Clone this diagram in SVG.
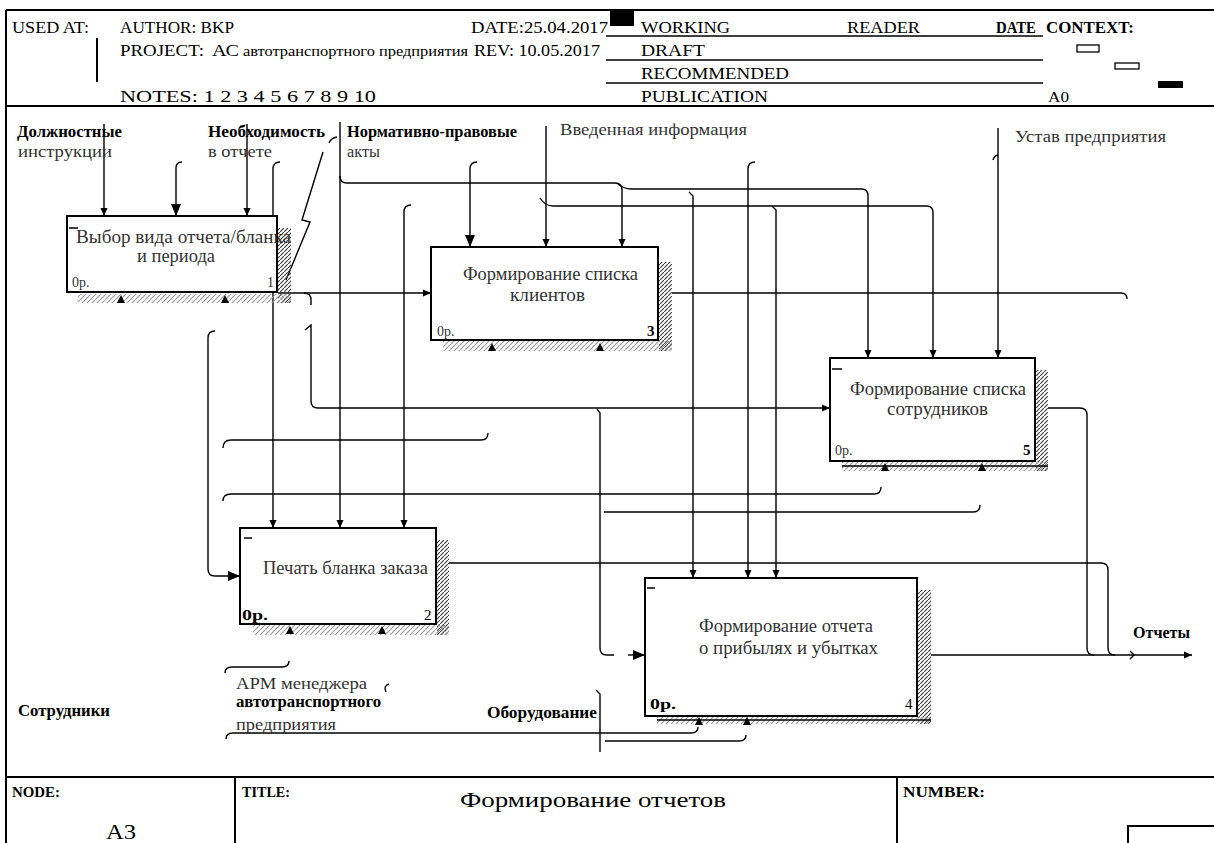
<svg xmlns="http://www.w3.org/2000/svg" width="1214" height="843" viewBox="0 0 1214 843" font-family="'Liberation Serif', 'DejaVu Serif', serif">
<defs>
<pattern id="hd" width="4" height="4" patternUnits="userSpaceOnUse"><path d="M-1,5 L5,-1" stroke="#444" stroke-width="1.2"/></pattern>
<pattern id="hl" width="5" height="5" patternUnits="userSpaceOnUse"><path d="M-1,6 L6,-1" stroke="#999" stroke-width="1.2"/></pattern>
<marker id="a" viewBox="0 0 8 8" refX="8" refY="4" markerWidth="8" markerHeight="8" markerUnits="userSpaceOnUse" orient="auto"><path d="M0,0.5 L8,4 L0,7.5 z" fill="#000"/></marker>
<marker id="ab" viewBox="0 0 12 10" refX="12" refY="5" markerWidth="12" markerHeight="10" markerUnits="userSpaceOnUse" orient="auto"><path d="M0,0 L12,5 L0,10 z" fill="#000"/></marker>
</defs>
<style>
.f{fill:none;stroke:#000;stroke-width:2}
.c{fill:none;stroke:#000;stroke-width:1.4}
text{font-family:"Liberation Serif","DejaVu Serif",serif}
.t{fill:#000}
.hd{font-size:17px}
.b{font-weight:bold}
.lb{font-size:17px;font-weight:bold}
.ln{font-size:17px;fill:#333}
.n{font-size:18px;fill:#333}
.sm{font-size:14px;fill:#333}
.box{fill:#fff;stroke:#000;stroke-width:2}
.mk{fill:#000}
</style>
<rect width="1214" height="843" fill="#fff"/>
<g id="frame">
<path class="f" d="M6,10 H1214 M6,10 V843 M6,106 H1214 M6,777 H1214 M235,777 V843 M897,777 V843 M1128,843 V826 H1214"/>
<path class="f" d="M97,38 V82"/>
<rect x="610" y="10" width="24" height="16" fill="#000"/>
<path d="M606,36 H1043 M606,60 H1043 M606,83 H1043" stroke="#000" stroke-width="1.5"/>
<rect x="1077" y="45" width="22" height="7" fill="#fff" stroke="#000" stroke-width="1.3"/>
<rect x="1115" y="63" width="24" height="6" fill="#fff" stroke="#000" stroke-width="1.3"/>
<rect x="1158" y="81" width="25" height="7" fill="#000"/>
<text class="t hd" x="12" y="33" textLength="77" lengthAdjust="spacingAndGlyphs">USED AT:</text>
<text class="t hd" x="120" y="33" textLength="114" lengthAdjust="spacingAndGlyphs">AUTHOR: BKP</text>
<text class="t hd" x="471" y="33" textLength="137" lengthAdjust="spacingAndGlyphs">DATE:25.04.2017</text>
<text class="t hd" x="120" y="56" textLength="84" lengthAdjust="spacingAndGlyphs">PROJECT:</text>
<text class="t hd" x="212" y="56" textLength="27" lengthAdjust="spacingAndGlyphs">АС</text>
<text class="t" font-size="15" x="243" y="56" textLength="225" lengthAdjust="spacingAndGlyphs">автотранспортного предприятия</text>
<text class="t hd" x="474" y="56" textLength="126" lengthAdjust="spacingAndGlyphs">REV: 10.05.2017</text>
<text class="t hd" x="120" y="102" textLength="256" lengthAdjust="spacingAndGlyphs">NOTES: 1 2 3 4 5 6 7 8 9 10</text>
<text class="t hd" x="641" y="33" textLength="89" lengthAdjust="spacingAndGlyphs">WORKING</text>
<text class="t hd" x="847" y="33" textLength="73" lengthAdjust="spacingAndGlyphs">READER</text>
<text class="t hd b" x="996" y="33" textLength="40" lengthAdjust="spacingAndGlyphs">DATE</text>
<text class="t hd b" x="1046" y="33" textLength="88" lengthAdjust="spacingAndGlyphs">CONTEXT:</text>
<text class="t hd" x="641" y="56" textLength="64" lengthAdjust="spacingAndGlyphs">DRAFT</text>
<text class="t hd" x="641" y="79" textLength="148" lengthAdjust="spacingAndGlyphs">RECOMMENDED</text>
<text class="t hd" x="641" y="102" textLength="127" lengthAdjust="spacingAndGlyphs">PUBLICATION</text>
<text class="t" font-size="15" x="1048" y="102" textLength="21" lengthAdjust="spacingAndGlyphs">A0</text>
<text class="t b" font-size="15" x="12" y="797" textLength="48" lengthAdjust="spacingAndGlyphs">NODE:</text>
<text class="t" font-size="21" x="106" y="839" textLength="30" lengthAdjust="spacingAndGlyphs">A3</text>
<text class="t b" font-size="15" x="242" y="797" textLength="48" lengthAdjust="spacingAndGlyphs">TITLE:</text>
<text class="t" font-size="22" x="460" y="807" textLength="266" lengthAdjust="spacingAndGlyphs">Формирование отчетов</text>
<text class="t b" font-size="15" x="903" y="797" textLength="82" lengthAdjust="spacingAndGlyphs">NUMBER:</text>
</g>
<g id="connectors">
<path class="c" d="M104,124 V216" marker-end="url(#a)"/>
<path class="c" d="M182,162 Q176,162 176,168 V216" marker-end="url(#ab)"/>
<path class="c" d="M247,124 V216" marker-end="url(#a)"/>
<path class="c" d="M280,162 Q273,162 273,169 V528" marker-end="url(#a)"/>
<path class="c" d="M340,122 V528" marker-end="url(#a)"/>
<path class="c" d="M411,205 Q404,205 404,212 V528" marker-end="url(#a)"/>
<path class="c" d="M340,176 Q340,183 347,183 H615 Q622,183 622,190 V247" marker-end="url(#a)"/>
<path class="c" d="M618,184 Q624,189 631,189 H862 Q868,189 868,196 V358" marker-end="url(#a)"/>
<path class="c" d="M689,192 L693,196 V578" marker-end="url(#a)"/>
<path class="c" d="M477,162 Q470,162 470,169 V247" marker-end="url(#ab)"/>
<path class="c" d="M546,126 V247" marker-end="url(#a)"/>
<path class="c" d="M540,198 Q545,206 553,206 H927 Q933,206 933,213 V358" marker-end="url(#a)"/>
<path class="c" d="M755,162 Q748,162 748,169 V578" marker-end="url(#a)"/>
<path class="c" d="M772,206 L776,210 V578" marker-end="url(#a)"/>
<path class="c" d="M998,128 V358" marker-end="url(#a)"/>
<path class="c" d="M998,155 Q994,156 993,160"/>
<path class="c" d="M278,293 H431" marker-end="url(#a)"/>
<path class="c" d="M304,293 Q311,293 311,300 V305"/>
<path class="c" d="M305,330 L311,325 V401 Q311,408 318,408 H830" marker-end="url(#a)"/>
<path class="c" d="M597,409 L600,413 V648 Q600,655 607,655 H614"/>
<path class="c" d="M628,655 H645" marker-end="url(#ab)"/>
<path class="c" d="M215,331 Q208,331 208,338 V569 Q208,576 215,576 H240" marker-end="url(#ab)"/>
<path class="c" d="M223,448 Q223,440 231,440 H481 Q488,440 488,433"/>
<path class="c" d="M223,501 Q223,494 231,494 H874 Q881,494 881,487"/>
<path class="c" d="M604,512 H973 Q980,512 980,505"/>
<path class="c" d="M672,293 H1121 Q1127,293 1127,299"/>
<path class="c" d="M1048,408 H1080 Q1087,408 1087,415 V648 Q1087,655 1094,655"/>
<path class="c" d="M449,563 H1101 Q1108,563 1108,570 V648 Q1108,655 1115,655"/>
<path class="c" d="M931,655 H1192" marker-end="url(#a)"/>
<path class="c" d="M1130,651 L1134,655 L1130,659"/>
<path class="c" d="M225,673 Q225,667 232,667 H282 Q289,667 289,661"/>
<path class="c" d="M389,684 Q383,686 386,692"/>
<path class="c" d="M226,739 Q226,733 233,733 H691 Q698,733 698,727"/>
<path class="c" d="M605,741 H739 Q746,741 746,735"/>
<path class="c" d="M596,690 L600,694 V752"/>
<path class="c" d="M337,137 Q331,138 329,143 M323,152 L302,220 L310,222 L286,280"/>
</g>
<g id="node-1">
<rect x="278" y="228" width="13" height="75" fill="url(#hd)"/>
<rect x="78" y="294" width="213" height="9" fill="url(#hl)"/>
<rect class="box" x="67" y="216" width="210" height="76"/>
<path d="M69,228 H78" stroke="#000" stroke-width="1.5"/>
<text class="t n" x="76" y="243" textLength="215" lengthAdjust="spacingAndGlyphs">Выбор вида отчета/бланка</text>
<text class="t n" x="137" y="262" textLength="78" lengthAdjust="spacingAndGlyphs">и периода</text>
<text class="t sm" x="72" y="287">0р.</text>
<text class="t sm" x="267" y="287">1</text>
<path class="mk" d="M121,295 L125,303 L117,303 z M225,295 L229,303 L221,303 z"/>
</g>
<g id="node-3">
<rect x="659" y="262" width="13" height="89" fill="url(#hd)"/>
<rect x="443" y="341" width="229" height="10" fill="url(#hl)"/>
<rect class="box" x="431" y="247" width="227" height="93"/>
<text class="t n" x="463" y="280" textLength="175" lengthAdjust="spacingAndGlyphs">Формирование списка</text>
<text class="t n" x="510" y="301" textLength="75" lengthAdjust="spacingAndGlyphs">клиентов</text>
<text class="t sm" x="437" y="336">0р.</text>
<text class="t b" font-size="15" x="647" y="336">3</text>
<path class="mk" d="M492,343 L496,351 L488,351 z M600,343 L604,351 L596,351 z"/>
</g>
<g id="node-5">
<rect x="1036" y="370" width="12" height="101" fill="url(#hd)"/>
<rect x="842" y="462" width="206" height="9" fill="url(#hl)"/>
<path d="M842,466 H1048" stroke="#000" stroke-width="1.5"/>
<rect class="box" x="830" y="358" width="205" height="103"/>
<path d="M832,369 H842" stroke="#000" stroke-width="1.5"/>
<text class="t n" x="850" y="395" textLength="176" lengthAdjust="spacingAndGlyphs">Формирование списка</text>
<text class="t n" x="887" y="415" textLength="101" lengthAdjust="spacingAndGlyphs">сотрудников</text>
<text class="t sm" x="835" y="455">0р.</text>
<text class="t b" font-size="15" x="1023" y="455">5</text>
<path class="mk" d="M885,463 L889,471 L881,471 z M982,463 L986,471 L978,471 z"/>
</g>
<g id="node-2">
<rect x="437" y="540" width="12" height="95" fill="url(#hd)"/>
<rect x="253" y="625" width="196" height="10" fill="url(#hl)"/>
<rect class="box" x="240" y="528" width="196" height="96"/>
<path d="M244,538 H252" stroke="#000" stroke-width="1.5"/>
<text class="t n" x="263" y="574" textLength="165" lengthAdjust="spacingAndGlyphs">Печать бланка заказа</text>
<text class="t b" font-size="15" x="242" y="620" textLength="26" lengthAdjust="spacingAndGlyphs">0р.</text>
<text class="t" font-size="15" x="424" y="620">2</text>
<path class="mk" d="M290,626 L294,634 L286,634 z M382,626 L386,634 L378,634 z"/>
</g>
<g id="node-4">
<rect x="918" y="590" width="13" height="134" fill="url(#hd)"/>
<rect x="657" y="717" width="274" height="7" fill="url(#hl)"/>
<path d="M657,720 H931" stroke="#000" stroke-width="1.5"/>
<rect class="box" x="645" y="578" width="272" height="138"/>
<path d="M647,588 H655" stroke="#000" stroke-width="1.5"/>
<text class="t n" x="699" y="632" textLength="174" lengthAdjust="spacingAndGlyphs">Формирование отчета</text>
<text class="t n" x="699" y="654" textLength="179" lengthAdjust="spacingAndGlyphs">о прибылях и убытках</text>
<text class="t b" font-size="15" x="650" y="709" textLength="26" lengthAdjust="spacingAndGlyphs">0р.</text>
<text class="t" font-size="15" x="905" y="709">4</text>
<path class="mk" d="M699,717 L703,725 L695,725 z M747,717 L751,725 L743,725 z"/>
</g>
<g id="labels">
<text class="t lb" x="17" y="137" textLength="105" lengthAdjust="spacingAndGlyphs">Должностные</text>
<text class="t ln" x="18" y="157" textLength="94" lengthAdjust="spacingAndGlyphs">инструкции</text>
<text class="t lb" x="208" y="137" textLength="117" lengthAdjust="spacingAndGlyphs">Необходимость</text>
<text class="t ln" x="208" y="157" textLength="64" lengthAdjust="spacingAndGlyphs">в отчете</text>
<text class="t lb" x="347" y="137" textLength="170" lengthAdjust="spacingAndGlyphs">Нормативно-правовые</text>
<text class="t ln" x="347" y="157" textLength="33" lengthAdjust="spacingAndGlyphs">акты</text>
<text class="t ln" x="560" y="135" textLength="187" lengthAdjust="spacingAndGlyphs">Введенная информация</text>
<text class="t ln" x="1015" y="142" textLength="151" lengthAdjust="spacingAndGlyphs">Устав предприятия</text>
<text class="t ln" x="236" y="689" textLength="131" lengthAdjust="spacingAndGlyphs">АРМ менеджера</text>
<text class="t lb" x="236" y="707" textLength="145" lengthAdjust="spacingAndGlyphs">автотранспортного</text>
<text class="t ln" x="236" y="730" textLength="100" lengthAdjust="spacingAndGlyphs">предприятия</text>
<text class="t lb" x="18" y="716" textLength="92" lengthAdjust="spacingAndGlyphs">Сотрудники</text>
<text class="t lb" x="487" y="718" textLength="110" lengthAdjust="spacingAndGlyphs">Оборудование</text>
<text class="t lb" x="1133" y="638" textLength="57" lengthAdjust="spacingAndGlyphs">Отчеты</text>
</g>
</svg>
